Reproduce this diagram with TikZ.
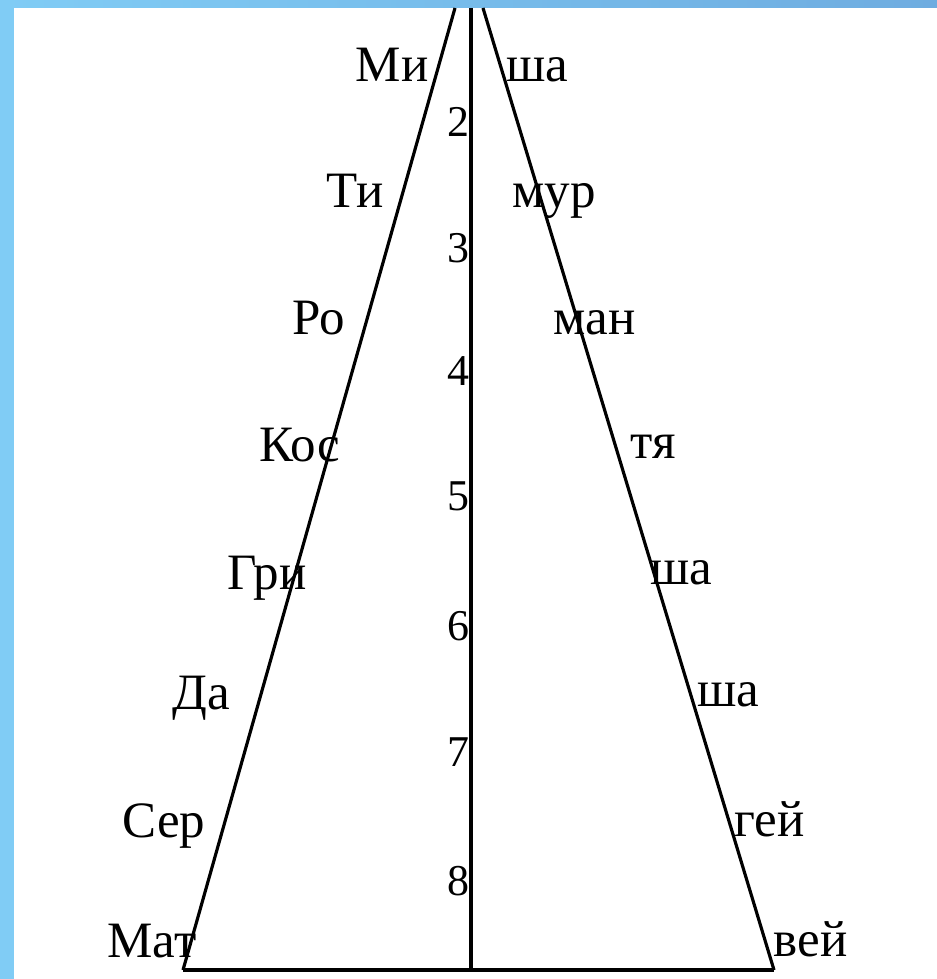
\documentclass[tikz,border=0pt]{standalone}
\usepackage{fontspec}
\setmainfont{Liberation Serif}
\definecolor{bgblue}{RGB}{128,204,245}
\definecolor{bgblueR}{RGB}{110,172,224}
\begin{document}
\begin{tikzpicture}[x=0.01cm,y=-0.01cm,
  lbl/.style={inner sep=0pt,font=\fontsize{14.5}{17}\selectfont},
  num/.style={inner sep=0pt,font=\fontsize{12.5}{15}\selectfont},
  edge/.style={line width=0.9pt,black}]
\useasboundingbox (0,0) rectangle (937,979);
\fill[bgblue] (0,0) rectangle (937,979);
\shade[left color=bgblue,right color=bgblueR] (0,0) rectangle (937,8);
\fill[white] (14,8) rectangle (937,979);
% triangle
\coordinate (LT) at (455,8);
\coordinate (LB) at (183,970);
\coordinate (RT) at (483,8);
\coordinate (RB) at (774,970);
\coordinate (MT) at (471,8);
\coordinate (MB) at (471,970);
\draw[edge] (LT) -- (LB);
\draw[edge] (RT) -- (RB);
\draw[edge] (MT) -- (MB);
\draw[edge] (LB) -- (RB);
% left syllables
\node[lbl,anchor=base east] (l1) at (429,82) {Ми};
\node[lbl,anchor=base east] (l2) at (384,207) {Ти};
\node[lbl,anchor=base east] (l3) at (346,334) {Ро};
\node[lbl,anchor=base east] (l4) at (341,461) {Кос};
\node[lbl,anchor=base east] (l5) at (307,589) {Гри};
\node[lbl,anchor=base east] (l6) at (231,709) {Да};
\node[lbl,anchor=base east] (l7) at (206,837) {Сер};
\node[lbl,anchor=base east] (l8) at (197,957) {Мат};
% right syllables
\node[lbl,anchor=base west] (r1) at (506,82) {ша};
\node[lbl,anchor=base west] (r2) at (512,207) {мур};
\node[lbl,anchor=base west] (r3) at (553,334) {ман};
\node[lbl,anchor=base west] (r4) at (630,458) {тя};
\node[lbl,anchor=base west] (r5) at (650,584) {ша};
\node[lbl,anchor=base west] (r6) at (697,706) {ша};
\node[lbl,anchor=base west] (r7) at (734,836) {гей};
\node[lbl,anchor=base west] (r8) at (773,956) {вей};
% numbers
\node[num,anchor=base east] (n2) at (470,137) {2};
\node[num,anchor=base east] (n3) at (470,262) {3};
\node[num,anchor=base east] (n4) at (470,385) {4};
\node[num,anchor=base east] (n5) at (470,510) {5};
\node[num,anchor=base east] (n6) at (470,640) {6};
\node[num,anchor=base east] (n7) at (470,766) {7};
\node[num,anchor=base east] (n8) at (470,895) {8};
\end{tikzpicture}
\end{document}
